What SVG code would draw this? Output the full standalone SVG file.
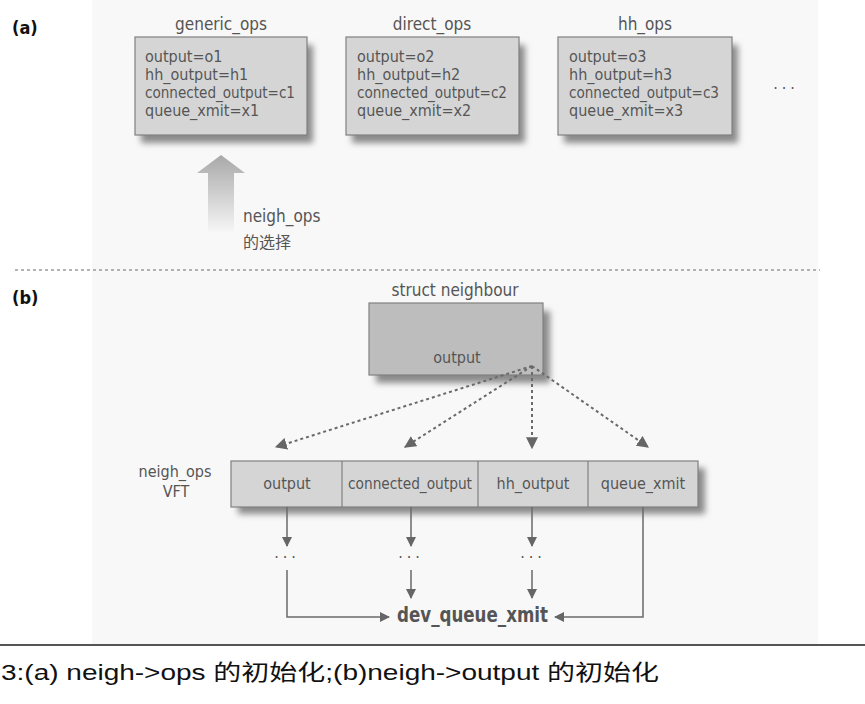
<svg xmlns="http://www.w3.org/2000/svg" width="865" height="704" viewBox="0 0 865 704">
<defs>
<filter id="sh" x="-20%" y="-20%" width="150%" height="150%"><feGaussianBlur stdDeviation="3"/></filter>
<linearGradient id="ag" x1="0" y1="0" x2="0" y2="1"><stop offset="0" stop-color="#a8a8a8"/><stop offset="1" stop-color="#f6f6f6"/></linearGradient>
<marker id="ah" viewBox="0 0 10 10" refX="9" refY="5" markerWidth="10" markerHeight="10" markerUnits="userSpaceOnUse" orient="auto"><path d="M0,0 L10,5 L0,10 z" fill="#666"/></marker>
<marker id="ahd" viewBox="0 0 10 10" refX="9" refY="5" markerWidth="12" markerHeight="12" markerUnits="userSpaceOnUse" orient="auto"><path d="M0,0 L10,5 L0,10 z" fill="#666"/></marker>
<style>
.f{font-family:"Liberation Sans Narrow","DejaVu Sans Condensed","Liberation Sans",sans-serif;fill:#555}
.t{font-size:17px}
.bt{font-size:16px}
.box{fill:#d5d5d5;stroke:#808080;stroke-width:1.2}
.shd{fill:#8a8a8a;filter:url(#sh)}
.lbl{font-family:"Liberation Sans Narrow","DejaVu Sans Condensed","Liberation Sans",sans-serif;font-weight:bold;font-size:18px;fill:#111}
.ln{stroke:#6a6a6a;stroke-width:1.5;fill:none}
.dl{stroke:#6a6a6a;stroke-width:2;fill:none;stroke-dasharray:3 3}
</style>
</defs>
<rect x="0" y="0" width="865" height="704" fill="#ffffff"/>
<rect x="92" y="0" width="726" height="645" fill="#f8f8f8"/>

<text class="lbl" x="12" y="34">(a)</text>
<text class="lbl" x="12" y="304">(b)</text>

<g id="generic_ops">
<rect class="shd" x="141" y="45" width="172" height="98"/>
<rect class="box" x="135" y="37" width="172" height="98"/>
<text class="f t" x="221" y="30" text-anchor="middle">generic_ops</text>
<text class="f bt" x="145" y="62">output=o1</text>
<text class="f bt" x="145" y="80">hh_output=h1</text>
<text class="f bt" x="145" y="98" textLength="150" lengthAdjust="spacingAndGlyphs">connected_output=c1</text>
<text class="f bt" x="145" y="116">queue_xmit=x1</text>
</g>
<g id="direct_ops">
<rect class="shd" x="352" y="45" width="173" height="98"/>
<rect class="box" x="346" y="37" width="173" height="98"/>
<text class="f t" x="432" y="30" text-anchor="middle">direct_ops</text>
<text class="f bt" x="357" y="62">output=o2</text>
<text class="f bt" x="357" y="80">hh_output=h2</text>
<text class="f bt" x="357" y="98" textLength="150" lengthAdjust="spacingAndGlyphs">connected_output=c2</text>
<text class="f bt" x="357" y="116">queue_xmit=x2</text>
</g>
<g id="hh_ops">
<rect class="shd" x="564" y="45" width="174" height="98"/>
<rect class="box" x="558" y="37" width="174" height="98"/>
<text class="f t" x="645" y="30" text-anchor="middle">hh_ops</text>
<text class="f bt" x="569" y="62">output=o3</text>
<text class="f bt" x="569" y="80">hh_output=h3</text>
<text class="f bt" x="569" y="98" textLength="150" lengthAdjust="spacingAndGlyphs">connected_output=c3</text>
<text class="f bt" x="569" y="116">queue_xmit=x3</text>
</g>
<text class="f bt" x="786" y="94" text-anchor="middle" letter-spacing="4">···</text>

<g id="selector">
<path d="M221,155 L245,173 L234,173 L234,232 L208,232 L208,173 L197,173 Z" fill="url(#ag)"/>
<text class="f t" x="243" y="222">neigh_ops</text>
<text class="f t" x="243" y="248" style="font-family:'Noto Sans CJK SC',sans-serif;font-size:16px">的选择</text>
</g>

<line x1="15" y1="270" x2="820" y2="270" stroke="#9a9a9a" stroke-width="1.5" stroke-dasharray="3 3"/>

<g id="struct_neighbour">
<rect class="shd" x="376" y="311" width="174" height="72"/>
<rect x="369" y="303" width="174" height="72" fill="#bdbdbd" stroke="#808080" stroke-width="1.2"/>
<text class="f t" x="455" y="296" text-anchor="middle">struct neighbour</text>
<text class="f bt" x="457" y="363" text-anchor="middle">output</text>
</g>

<g id="vft">
<text class="f bt" x="175" y="477" text-anchor="middle">neigh_ops</text>
<text class="f bt" x="176" y="497" text-anchor="middle">VFT</text>
<rect class="shd" x="238" y="468" width="467" height="46"/>
<rect class="box" x="231" y="461" width="467" height="46"/>
<line x1="342" y1="461" x2="342" y2="507" stroke="#808080" stroke-width="1.2"/>
<line x1="478" y1="461" x2="478" y2="507" stroke="#808080" stroke-width="1.2"/>
<line x1="588" y1="461" x2="588" y2="507" stroke="#808080" stroke-width="1.2"/>
<text class="f bt" x="287" y="489" text-anchor="middle">output</text>
<text class="f bt" x="410" y="489" text-anchor="middle" textLength="124" lengthAdjust="spacingAndGlyphs">connected_output</text>
<text class="f bt" x="533" y="489" text-anchor="middle">hh_output</text>
<text class="f bt" x="643" y="489" text-anchor="middle">queue_xmit</text>
</g>

<g id="dots">
<text class="f bt" x="287" y="563" text-anchor="middle" letter-spacing="4">···</text>
<text class="f bt" x="411" y="563" text-anchor="middle" letter-spacing="4">···</text>
<text class="f bt" x="533" y="563" text-anchor="middle" letter-spacing="4">···</text>
</g>

<g id="dev_queue_xmit">
<text x="397" y="622" textLength="151" lengthAdjust="spacingAndGlyphs" style="font-family:'Liberation Sans Narrow','DejaVu Sans Condensed','Liberation Sans',sans-serif;font-weight:bold;font-size:21px;fill:#555">dev_queue_xmit</text>
</g>

<g id="connectors">
<line class="dl" x1="532" y1="366" x2="276" y2="447" marker-end="url(#ahd)"/>
<line class="dl" x1="532" y1="366" x2="405" y2="447" marker-end="url(#ahd)"/>
<line class="dl" x1="532" y1="366" x2="532" y2="448" marker-end="url(#ahd)"/>
<line class="dl" x1="532" y1="366" x2="648" y2="447" marker-end="url(#ahd)"/>
<line class="ln" x1="287" y1="507" x2="287" y2="546" marker-end="url(#ah)"/>
<line class="ln" x1="411" y1="507" x2="411" y2="546" marker-end="url(#ah)"/>
<line class="ln" x1="532" y1="507" x2="532" y2="546" marker-end="url(#ah)"/>
<line class="ln" x1="411" y1="570" x2="411" y2="598" marker-end="url(#ah)"/>
<line class="ln" x1="532" y1="570" x2="532" y2="598" marker-end="url(#ah)"/>
<polyline class="ln" points="287,570 287,617 389,617" marker-end="url(#ah)"/>
<polyline class="ln" points="643,507 643,617 555,617" marker-end="url(#ah)"/>
</g>

<line x1="0" y1="645" x2="865" y2="645" stroke="#555" stroke-width="2"/>
<text x="1" y="680" textLength="658" lengthAdjust="spacingAndGlyphs" style="font-family:'Liberation Sans','Noto Sans CJK SC',sans-serif;font-size:22px;fill:#111">3:(a) neigh-&gt;ops 的初始化;(b)neigh-&gt;output 的初始化</text>
</svg>
